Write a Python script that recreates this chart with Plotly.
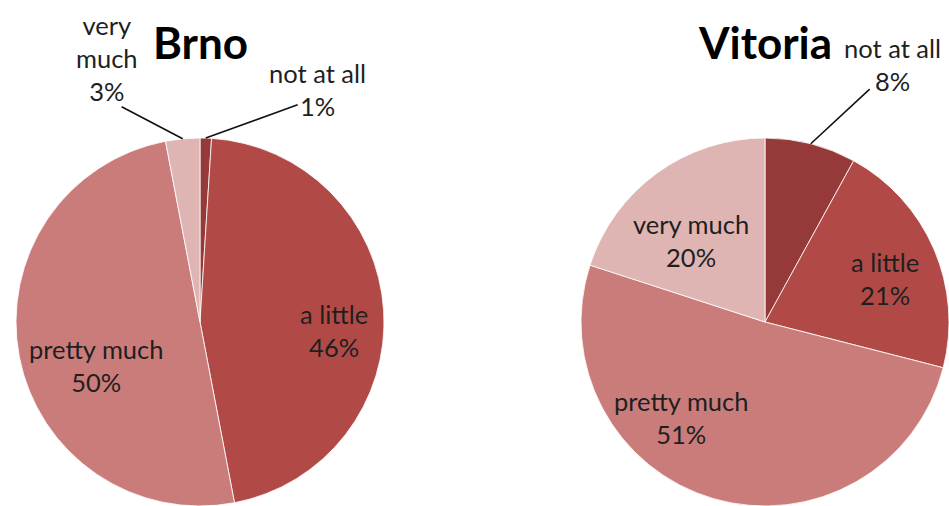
import math
import plotly.graph_objects as go

# --- data -------------------------------------------------------------
categories = ["not at all", "a little", "pretty much", "very much"]
brno_pct = [1, 46, 50, 3]
vitoria_pct = [8, 21, 51, 20]
slice_colors = ["#953A38", "#B14A47", "#CA7C7A", "#DFB5B4"]

W, H = 949, 506
R = 184  # pie radius in px

# pie centre (px) and label placement tweaks: (radius factor, angle nudge deg)
# outside labels also get a leader line ending at (line_k, line_nudge)
pies = [
    dict(name="Brno", values=brno_pct, cx=200, cy=322,
         labels=[(1.418, 25.0), (0.730, 7.4), (0.611, -11.7), (1.522, -14.0)],
         lines={0: (1.295, 22.4), 3: (1.245, -14.6)}),
    dict(name="Vitoria", values=vitoria_pct, cx=765, cy=322,
         labels=[(1.561, 11.9), (0.695, 3.7), (0.690, 24.7), (0.598, -6.5)],
         lines={0: (1.388, 9.8)}),
]

FONT = "Lato, 'Open Sans', sans-serif"


def to_paper(px, py):
    return px / W, 1 - py / H


def polar(cx, cy, k, deg):
    a = math.radians(deg)
    return cx + k * R * math.sin(a), cy - k * R * math.cos(a)


fig = go.Figure()
annotations = []
shapes = []

for p in pies:
    x0, y1 = to_paper(p["cx"] - R, p["cy"] - R)
    x1, y0 = to_paper(p["cx"] + R, p["cy"] + R)
    fig.add_trace(go.Pie(
        labels=categories,
        values=p["values"],
        sort=False,
        direction="clockwise",
        rotation=0,
        textinfo="none",
        hoverinfo="label+percent",
        marker=dict(colors=slice_colors, line=dict(color="rgba(255,255,255,0.8)", width=1)),
        domain=dict(x=[max(x0, 0), min(x1, 1)], y=[max(y0, 0), min(y1, 1)]),
        showlegend=False,
    ))

    total = sum(p["values"])
    cum = 0
    for i, (cat, v) in enumerate(zip(categories, p["values"])):
        mid = 360 * (cum + v / 2) / total
        cum += v
        k, nudge = p["labels"][i]
        lx, ly = polar(p["cx"], p["cy"], k, mid + nudge)
        ax, ay = to_paper(lx, ly)
        text = "very<br>much<br>%d%%" % v if (cat == "very much" and k > 1) else "%s<br>%d%%" % (cat, v)
        annotations.append(dict(
            x=ax, y=ay, xref="paper", yref="paper", text=text, showarrow=False,
            font=dict(family=FONT, size=25.5, color="#1f1f1f"),
            xanchor="center", yanchor="middle",
        ))
        if i in p["lines"]:
            lk, lnudge = p["lines"][i]
            sx, sy = polar(p["cx"], p["cy"], 1.0, mid)
            ex, ey = polar(p["cx"], p["cy"], lk, mid + lnudge)
            sx, sy = to_paper(sx, sy)
            ex, ey = to_paper(ex, ey)
            shapes.append(dict(type="line", xref="paper", yref="paper",
                               x0=sx, y0=sy, x1=ex, y1=ey,
                               line=dict(color="#111111", width=1.6)))

    tx, ty = to_paper(p["cx"], 42)
    annotations.append(dict(
        x=tx, y=ty, xref="paper", yref="paper", text="<b>%s</b>" % p["name"],
        showarrow=False, font=dict(family=FONT, size=44, color="#000000"),
        xanchor="center", yanchor="middle",
    ))

fig.update_layout(
    width=W, height=H,
    margin=dict(l=0, r=0, t=0, b=0),
    paper_bgcolor="white",
    plot_bgcolor="white",
    annotations=annotations,
    shapes=shapes,
)

# drop the browser's default 8px body margin so the figure fills the window
fig.write_html("out.html", config={"displayModeBar": False},
               post_script="document.body.style.margin='0';")
